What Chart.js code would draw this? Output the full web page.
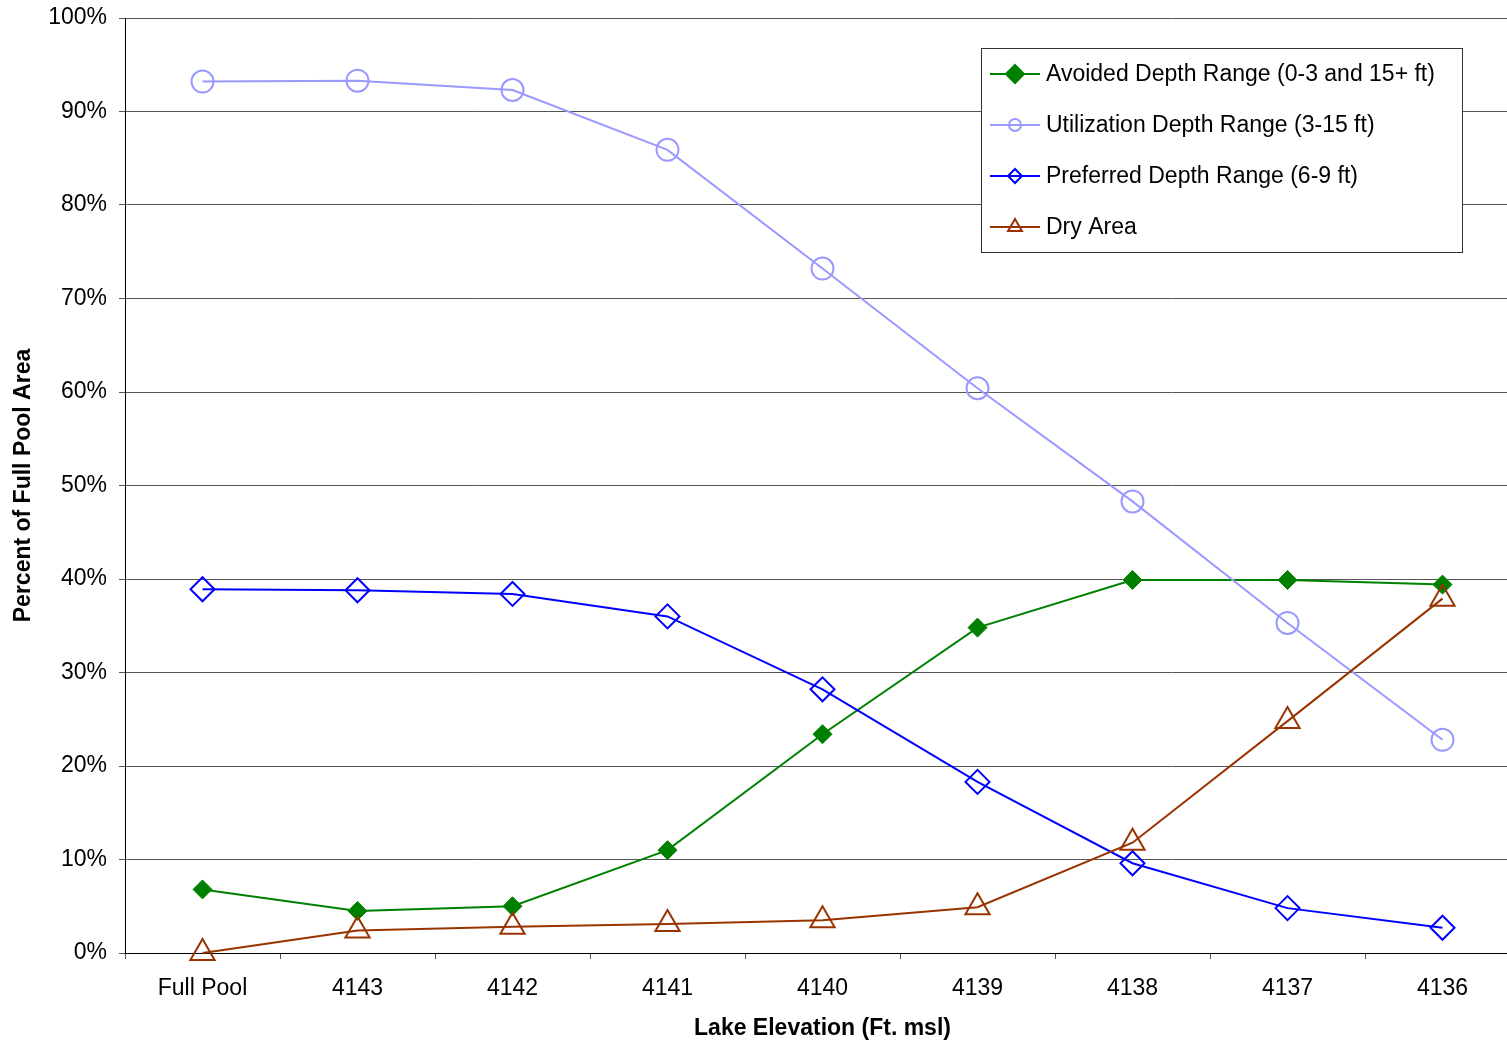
<!DOCTYPE html>
<html>
<head>
<meta charset="utf-8">
<script src="https://cdn.jsdelivr.net/npm/chart.js@4/dist/chart.umd.min.js"></script>
<style>
    html, body { margin: 0; padding: 0; background: #fff; overflow: hidden; }
    #wrap { width: 1536px; height: 1042px; }
</style>
</head>
<body>
<!-- canvas is wider than the window: the original plot runs past the right edge -->
<div id="wrap"><canvas id="elevChart" width="1536" height="1042"></canvas></div>
<script>
// Habitat area by lake elevation

const elevations = ['Full Pool', '4143', '4142', '4141', '4140', '4139', '4138', '4137', '4136'];
const avoidedVals = [6.8, 4.5, 5.0, 11.0, 23.4, 34.8, 39.9, 39.9, 39.4];
const utilizationVals = [93.2, 93.3, 92.3, 85.9, 73.2, 60.4, 48.3, 35.3, 22.8];
const preferredVals = [38.9, 38.8, 38.4, 36.0, 28.2, 18.3, 9.6, 4.8, 2.7];
const dryVals = [0, 2.4, 2.8, 3.1, 3.5, 4.9, 11.8, 24.8, 37.9];

const seriesNames = [
    'Avoided Depth Range (0-3 and 15+ ft)',
    'Utilization Depth Range (3-15 ft)',
    'Preferred Depth Range (6-9 ft)',
    'Dry Area'
];

const fontFamily = "'Liberation Sans', Arial, sans-serif";

// legend drawn inside the plot, like the original
const boxLegend = {
    id: 'boxLegend',
    afterDraw(chart) {
        const ctx = chart.ctx;
        const x0 = 981.5, y0 = 48.5, w = 481, h = 204;
        ctx.save();
        ctx.fillStyle = '#fff';
        ctx.fillRect(x0, y0, w, h);
        ctx.strokeStyle = '#333';
        ctx.lineWidth = 1;
        ctx.strokeRect(x0, y0, w, h);

        const legendSizes = [9, 6, 7, 8];
        chart.data.datasets.forEach((ds, i) => {
            const y = 74 + i * 51;
            ctx.strokeStyle = ds.borderColor;
            ctx.lineWidth = 2;
            ctx.beginPath();
            ctx.moveTo(990, y);
            ctx.lineTo(1040, y);
            ctx.stroke();

            ctx.fillStyle = ds.pointBackgroundColor;
            ctx.strokeStyle = ds.pointBorderColor;
            ctx.lineWidth = 2;
            Chart.helpers.drawPoint(ctx, {
                pointStyle: ds.pointStyle,
                radius: legendSizes[i],
                rotation: 0,
                borderWidth: 2
            }, 1015, y);

            ctx.fillStyle = '#000';
            ctx.font = '23px ' + fontFamily;
            ctx.textBaseline = 'middle';
            ctx.textAlign = 'left';
            ctx.fillText(ds.label, 1046, y + 1);
        });
        ctx.restore();
    }
};

const ctx = document.getElementById('elevChart');
new Chart(ctx, {
    type: 'line',
    data: {
        labels: elevations,
        datasets: [{
            label: seriesNames[0],
            data: avoidedVals,
            borderColor: '#008000',
            borderWidth: 2,
            pointStyle: 'rectRot',
            pointRadius: 9.5,
            pointBackgroundColor: '#008000',
            pointBorderColor: '#008000',
            pointBorderWidth: 1,
            order: 4,
            clip: false
        }, {
            label: seriesNames[1],
            data: utilizationVals,
            borderColor: '#9999ff',
            borderWidth: 2,
            pointStyle: 'circle',
            pointRadius: 11,
            pointBackgroundColor: 'rgba(0,0,0,0)',
            pointBorderColor: '#9999ff',
            pointBorderWidth: 2,
            order: 3,
            clip: false
        }, {
            label: seriesNames[2],
            data: preferredVals,
            borderColor: '#0000ff',
            borderWidth: 2,
            pointStyle: 'rectRot',
            pointRadius: 12,
            pointBackgroundColor: 'rgba(0,0,0,0)',
            pointBorderColor: '#0000ff',
            pointBorderWidth: 2,
            order: 2,
            clip: false
        }, {
            label: seriesNames[3],
            data: dryVals,
            borderColor: '#993300',
            borderWidth: 2,
            pointStyle: 'triangle',
            pointRadius: 14,
            pointBackgroundColor: 'rgba(0,0,0,0)',
            pointBorderColor: '#993300',
            pointBorderWidth: 2,
            order: 1,
            clip: false
        }]
    },
    options: {
        responsive: false,
        animation: false,
        devicePixelRatio: 1,
        layout: {
            padding: { top: 18, right: 0, left: 0, bottom: 0 }
        },
        plugins: {
            legend: { display: false },
            tooltip: { enabled: false }
        },
        elements: {
            line: { tension: 0 }
        },
        scales: {
            x: {
                offset: true,
                afterFit: function (scale) {
                    scale.height = 89;
                    scale.paddingLeft = 0;
                    scale.paddingRight = 0;
                },
                border: { color: '#000', width: 1 },
                grid: {
                    offset: true,
                    drawOnChartArea: false,
                    drawTicks: true,
                    tickLength: 6,
                    color: '#555'
                },
                ticks: {
                    color: '#000',
                    padding: 16,
                    maxRotation: 0,
                    autoSkip: false,
                    font: { family: fontFamily, size: 23 }
                },
                title: {
                    display: true,
                    text: 'Lake Elevation (Ft. msl)',
                    color: '#000',
                    padding: { top: 0, bottom: 0 },
                    font: { family: fontFamily, size: 23, weight: 'bold' }
                }
            },
            y: {
                min: 0,
                max: 100,
                afterFit: function (scale) {
                    scale.width = 125;
                    scale.paddingTop = 0;
                    scale.paddingBottom = 0;
                },
                border: { color: '#000', width: 1 },
                grid: {
                    color: '#555',
                    lineWidth: 1,
                    tickLength: 6,
                    drawTicks: true
                },
                ticks: {
                    stepSize: 10,
                    color: '#000',
                    padding: 12,
                    font: { family: fontFamily, size: 23 },
                    callback: function (v) { return v + '%'; }
                },
                title: {
                    display: true,
                    text: 'Percent of Full Pool Area',
                    color: '#000',
                    padding: { top: 10, bottom: 0 },
                    font: { family: fontFamily, size: 23, weight: 'bold' }
                }
            }
        }
    },
    plugins: [boxLegend]
});
</script>
</body>
</html>
